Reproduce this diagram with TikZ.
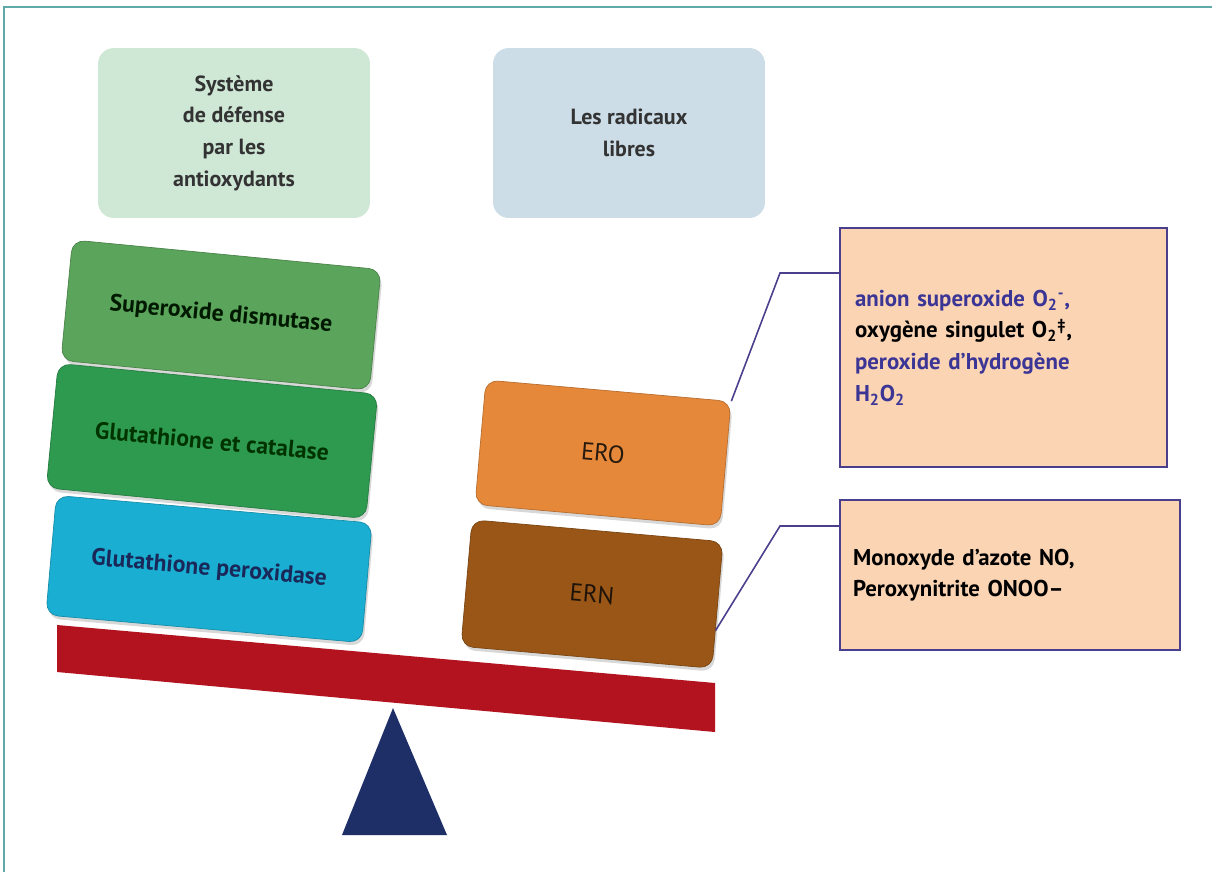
\documentclass[tikz,border=0pt]{standalone}
\usepackage{fontspec}
\setmainfont{PT Sans}
\usetikzlibrary{positioning,calc,shadows}

\definecolor{framecol}{HTML}{5FA9A9}
\definecolor{palegreen}{HTML}{CFE8D6}
\definecolor{paleblue}{HTML}{CCDDE7}
\definecolor{sodgreen}{HTML}{5BA45B}
\definecolor{catgreen}{HTML}{2E9A50}
\definecolor{gpxcyan}{HTML}{1AAFD2}
\definecolor{eroorange}{HTML}{E6883A}
\definecolor{ernbrown}{HTML}{9A5616}
\definecolor{beamred}{HTML}{B3121F}
\definecolor{pivotblue}{HTML}{1E2F68}
\definecolor{peach}{HTML}{FBD4B4}
\definecolor{boxline}{HTML}{4A3F8C}
\definecolor{txtblue}{HTML}{3B3596}

\begin{document}
\begin{tikzpicture}[x=0.02cm,y=-0.02cm,
    titlebox/.style={rounded corners=9pt, minimum width=5.44cm, minimum height=3.4cm,
      align=center, text=black!80, font=\bfseries\fontsize{12.5}{18}\selectfont},
    brick/.style={rounded corners=7pt, align=center, inner sep=0pt,
      drop shadow={shadow xshift=1pt, shadow yshift=-2pt, opacity=0.3},
      font=\bfseries\fontsize{13.5}{16}\selectfont},
    infobox/.style={draw=boxline, fill=peach, line width=1pt, align=left,
      font=\bfseries\fontsize{13}{18}\selectfont},
    link/.style={draw=boxline, line width=0.9pt}]
  \useasboundingbox (0,0) rectangle (1212,872);
  \fill[white] (0,0) rectangle (1212,872);
  \draw[framecol, line width=1pt] (4,872) -- (4,7) -- (1212,7);

  % titles
  \node[titlebox, fill=palegreen] (defense) at (234,133)
    {Système\\de défense\\par les\\antioxydants};
  \node[titlebox, fill=paleblue] (radicaux) at (629,133)
    {Les radicaux\\libres};

  % beam and pivot
  \fill[beamred] (57,625) -- (715,683) -- (715,732) -- (57,672) -- cycle;
  \fill[pivotblue] (393,708) -- (447,835) -- (342,835) -- cycle;

  % antioxidant side
  \node[brick, rotate=-5.5, fill=sodgreen, draw=sodgreen!80!black, text=black!75!green!40!black,
    minimum width=6.2cm, minimum height=2.42cm] (sod) at (221,315) {Superoxide dismutase};
  \node[brick, rotate=-5.5, fill=catgreen, draw=catgreen!80!black, text=black!80!green,
    minimum width=6.42cm, minimum height=2.5cm] (catalase) at (212,441) {Glutathione et catalase};
  \node[brick, rotate=-5, fill=gpxcyan, draw=gpxcyan!80!black, text=pivotblue!85!black,
    minimum width=6.34cm, minimum height=2.4cm] (gpx) at (209,569) {Glutathione peroxidase};

  % radical side
  \node[brick, rotate=-5, fill=eroorange, draw=eroorange!80!black, text=black!80!brown,
    font=\fontsize{14}{16}\selectfont,
    minimum width=4.92cm, minimum height=2.5cm] (ero) at (603,453) {ERO};
  \node[brick, rotate=-5, fill=ernbrown, draw=ernbrown!80!black, text=black!85!brown,
    font=\fontsize{14}{16}\selectfont,
    minimum width=5.04cm, minimum height=2.54cm] (ern) at (592,594) {ERN};

  % details
  \node[infobox, text width=6.54cm-0.6cm, inner xsep=0.3cm, minimum height=4.78cm] (eroinfo) at (1003.5,347.5)
    {\textcolor{txtblue}{anion superoxide O\textsubscript{2}\textsuperscript{-},}\\
     oxygène singulet O\textsubscript{2}\textsuperscript{‡},\\
     \textcolor{txtblue}{peroxide d’hydrogène}\\
     \textcolor{txtblue}{H\textsubscript{2}O\textsubscript{2}}};
  \node[infobox, text width=6.8cm-0.52cm, inner xsep=0.26cm, minimum height=3cm] (erninfo) at (1010,575)
    {Monoxyde d’azote NO,\\Peroxynitrite ONOO–};

  \coordinate (bendero) at (780,273);
  \coordinate (bendern) at (780,526);
  \draw[link] (ero.north east) -- (bendero) -- (bendero -| eroinfo.west);
  \draw[link] ($(ern.north east)!0.7!(ern.south east)$) -- (bendern) -- (bendern -| erninfo.west);
\end{tikzpicture}
\end{document}
